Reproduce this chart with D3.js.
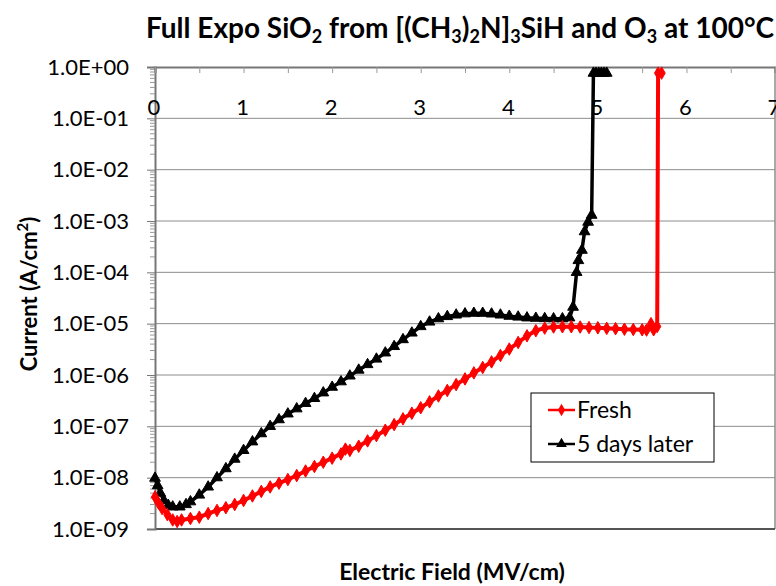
<!DOCTYPE html>
<meta charset="utf-8">
<title>Full Expo SiO2</title>
<style>
body { margin: 0; background: white; font-family: 'Lato', 'Open Sans', sans-serif; }
svg text { fill: #000; }
</style>
<svg width="776" height="586"></svg>
<script src="https://d3js.org/d3.v7.min.js"></script>
<script>
// Fresh sample: [field MV/cm, current A/cm2]
var freshX = [0, 0.04, 0.08, 0.14, 0.2, 0.25, 0.3, 0.4, 0.5, 0.6, 0.7, 0.8, 0.9, 1.0, 1.1, 1.2, 1.3, 1.4, 1.5, 1.6, 1.7, 1.8, 1.9, 2.0, 2.1, 2.15, 2.2, 2.3, 2.4, 2.5, 2.6, 2.7, 2.8, 2.9, 3.0, 3.1, 3.2, 3.3, 3.4, 3.5, 3.6, 3.7, 3.8, 3.9, 4.0, 4.1, 4.2, 4.3, 4.4, 4.5, 4.6, 4.7, 4.8, 4.9, 5.0, 5.1, 5.2, 5.3, 5.4, 5.5, 5.55, 5.6, 5.63, 5.67, 5.68, 5.72];
var freshY = [4.2e-9, 3.2e-9, 2.5e-9, 1.9e-9, 1.5e-9, 1.4e-9, 1.5e-9, 1.6e-9, 1.7e-9, 2.0e-9, 2.3e-9, 2.6e-9, 3.0e-9, 3.6e-9, 4.4e-9, 5.4e-9, 6.6e-9, 7.8e-9, 9.2e-9, 1.1e-8, 1.35e-8, 1.65e-8, 2.0e-8, 2.4e-8, 2.9e-8, 3.6e-8, 3.4e-8, 4.1e-8, 5.2e-8, 6.6e-8, 8.4e-8, 1.08e-7, 1.4e-7, 1.8e-7, 2.3e-7, 3.0e-7, 3.9e-7, 5.0e-7, 6.5e-7, 8.4e-7, 1.1e-6, 1.4e-6, 1.8e-6, 2.4e-6, 3.2e-6, 4.3e-6, 5.8e-6, 7.3e-6, 8.2e-6, 8.6e-6, 8.7e-6, 8.7e-6, 8.6e-6, 8.4e-6, 8.3e-6, 8.1e-6, 8.0e-6, 7.8e-6, 7.7e-6, 7.6e-6, 7.5e-6, 1.0e-5, 7.6e-6, 8.8e-6, 0.76, 0.76];

// 5 days later
var laterX = [0, 0.03, 0.06, 0.1, 0.15, 0.2, 0.28, 0.35, 0.4, 0.5, 0.6, 0.7, 0.8, 0.9, 1.0, 1.1, 1.2, 1.3, 1.4, 1.5, 1.6, 1.7, 1.8, 1.9, 2.0, 2.1, 2.2, 2.3, 2.4, 2.5, 2.6, 2.7, 2.8, 2.9, 3.0, 3.1, 3.2, 3.3, 3.4, 3.5, 3.6, 3.7, 3.8, 3.9, 4.0, 4.1, 4.2, 4.3, 4.4, 4.5, 4.6, 4.68, 4.72, 4.76, 4.78, 4.82, 4.85, 4.89, 4.93, 4.95, 4.98, 5.01, 5.04, 5.07, 5.1];
var laterY = [9.8e-9, 7e-9, 5e-9, 3.6e-9, 2.9e-9, 2.7e-9, 2.7e-9, 3.0e-9, 3.4e-9, 4.6e-9, 6.6e-9, 1.0e-8, 1.5e-8, 2.3e-8, 3.4e-8, 5.0e-8, 7.2e-8, 1.0e-7, 1.35e-7, 1.75e-7, 2.2e-7, 2.8e-7, 3.5e-7, 4.5e-7, 5.8e-7, 7.4e-7, 9.6e-7, 1.25e-6, 1.6e-6, 2.05e-6, 2.7e-6, 3.6e-6, 4.9e-6, 6.6e-6, 8.8e-6, 1.08e-5, 1.25e-5, 1.38e-5, 1.48e-5, 1.56e-5, 1.6e-5, 1.6e-5, 1.55e-5, 1.48e-5, 1.4e-5, 1.35e-5, 1.3e-5, 1.28e-5, 1.26e-5, 1.25e-5, 1.25e-5, 1.3e-5, 2.1e-5, 1.0e-4, 1.7e-4, 2.7e-4, 6.2e-4, 9.5e-4, 1.3e-3, 0.76, 0.76, 0.76, 0.76, 0.76, 0.76];

var xTicks = [0, 1, 2, 3, 4, 5, 6, 7];
var yTicks = [1, 1e-1, 1e-2, 1e-3, 1e-4, 1e-5, 1e-6, 1e-7, 1e-8, 1e-9];
var yTickLabels = ["1.0E+00", "1.0E-01", "1.0E-02", "1.0E-03", "1.0E-04", "1.0E-05", "1.0E-06", "1.0E-07", "1.0E-08", "1.0E-09"];
var seriesNames = ["Fresh", "5 days later"];

var svg = d3.select("svg");
var L = 155, R = 775, T = 67, B = 529;

var x = d3.scaleLinear().domain([0, 7]).range([L, R]);
var y = d3.scaleLog().domain([1e-9, 1]).range([B, T]);

// title
var title = svg.append("text")
  .attr("x", 460).attr("y", 38)
  .attr("text-anchor", "middle")
  .style("font-size", "28px").style("font-weight", "bold");
function part(t, sub) {
  var s = title.append("tspan").text(t);
  if (sub) s.attr("baseline-shift", "-25%").style("font-size", "18px");
}
part("Full Expo SiO"); part("2", true); part(" from [(CH"); part("3", true);
part(")"); part("2", true); part("N]"); part("3", true); part("SiH and O");
part("3", true); part(" at 100°C");

// gridlines
svg.append("g").selectAll("line")
  .data(yTicks.slice(1, -1))
  .join("line")
  .attr("x1", L).attr("x2", R)
  .attr("y1", d => y(d)).attr("y2", d => y(d))
  .attr("stroke", "#8c8c8c").attr("stroke-width", 1);

// plot frame
svg.append("line").attr("x1", R).attr("x2", R).attr("y1", T).attr("y2", B)
  .attr("stroke", "#8c8c8c").attr("stroke-width", 1.5);
svg.append("line").attr("x1", L).attr("x2", R).attr("y1", B).attr("y2", B)
  .attr("stroke", "#555").attr("stroke-width", 2);

// y axis (left)
var yAxis = d3.axisLeft(y)
  .tickValues(yTicks)
  .tickFormat((d, i) => yTickLabels[i])
  .tickSize(8).tickPadding(18);
var gy = svg.append("g").attr("transform", "translate(" + L + ",0)").call(yAxis);
gy.select(".domain").attr("stroke", "#777").attr("stroke-width", 2);
gy.selectAll(".tick line").attr("stroke", "#777");
gy.selectAll("text").style("font-size", "22px").style("font-family", "Lato, sans-serif");

// y minor ticks
var minor = [];
yTicks.slice(1).forEach(function(d) {
  for (var k = 2; k <= 9; k++) minor.push(d * k);
});
svg.append("g").selectAll("line")
  .data(minor)
  .join("line")
  .attr("x1", L - 5).attr("x2", L)
  .attr("y1", d => y(d)).attr("y2", d => y(d))
  .attr("stroke", "#999").attr("stroke-width", 1);

// x axis along top, ticks pointing down
var xAxis = d3.axisTop(x).tickValues(d3.range(0, 7.01, 0.5)).tickSize(-6).tickFormat("");
var gx = svg.append("g").attr("transform", "translate(0," + T + ")").call(xAxis);
gx.select(".domain").attr("stroke", "#777").attr("stroke-width", 2);
gx.selectAll(".tick line").attr("stroke", "#999");
svg.append("g").selectAll("text")
  .data(xTicks)
  .join("text")
  .attr("x", d => x(d) - 1).attr("y", 115)
  .attr("text-anchor", "middle")
  .style("font-size", "22px")
  .text(d => d);

// series
var line = d3.line().x(d => x(d[0])).y(d => y(d[1]));
var fresh = freshX.map((v, i) => [v, freshY[i]]);
var later = laterX.map((v, i) => [v, laterY[i]]);

var diamond = d3.symbol().type(d3.symbolDiamond).size(45);
var triangle = d3.symbol().type(d3.symbolTriangle).size(50);

svg.append("path").datum(later).attr("d", line)
  .attr("fill", "none").attr("stroke", "#000").attr("stroke-width", 3.5);
svg.append("g").selectAll("path").data(later).join("path")
  .attr("d", triangle)
  .attr("transform", d => "translate(" + x(d[0]) + "," + y(d[1]) + ")")
  .attr("fill", "#000").attr("stroke", "#000").attr("stroke-width", 1);

svg.append("path").datum(fresh).attr("d", line)
  .attr("fill", "none").attr("stroke", "#ff0000").attr("stroke-width", 4);
svg.append("g").selectAll("path").data(fresh).join("path")
  .attr("d", diamond)
  .attr("transform", d => "translate(" + x(d[0]) + "," + y(d[1]) + ")")
  .attr("fill", "#ff0000").attr("stroke", "#ff0000").attr("stroke-width", 1);

// legend
var lg = svg.append("g").attr("transform", "translate(531,393)");
lg.append("rect").attr("width", 183).attr("height", 69)
  .attr("fill", "white").attr("stroke", "#000").attr("stroke-width", 1);
var colors = ["#ff0000", "#000"];
var syms = [diamond, triangle];
seriesNames.forEach(function(name, i) {
  var cy = 17 + i * 34;
  lg.append("line").attr("x1", 17).attr("x2", 44).attr("y1", cy).attr("y2", cy)
    .attr("stroke", colors[i]).attr("stroke-width", 2.5);
  lg.append("path").attr("d", syms[i]).attr("transform", "translate(30.5," + cy + ")")
    .attr("fill", colors[i]);
  lg.append("text").attr("x", 46).attr("y", cy + 8)
    .style("font-size", "23px").text(name);
});

// axis titles
svg.append("text").attr("x", 452).attr("y", 580)
  .attr("text-anchor", "middle")
  .style("font-size", "23px").style("font-weight", "bold")
  .text("Electric Field (MV/cm)");
var yt = svg.append("text")
  .attr("transform", "translate(37,294) rotate(-90)")
  .attr("text-anchor", "middle")
  .style("font-size", "22px").style("font-weight", "bold");
yt.append("tspan").text("Current (A/cm");
yt.append("tspan").attr("baseline-shift", "super").style("font-size", "15px").text("2");
yt.append("tspan").text(")");
</script>
